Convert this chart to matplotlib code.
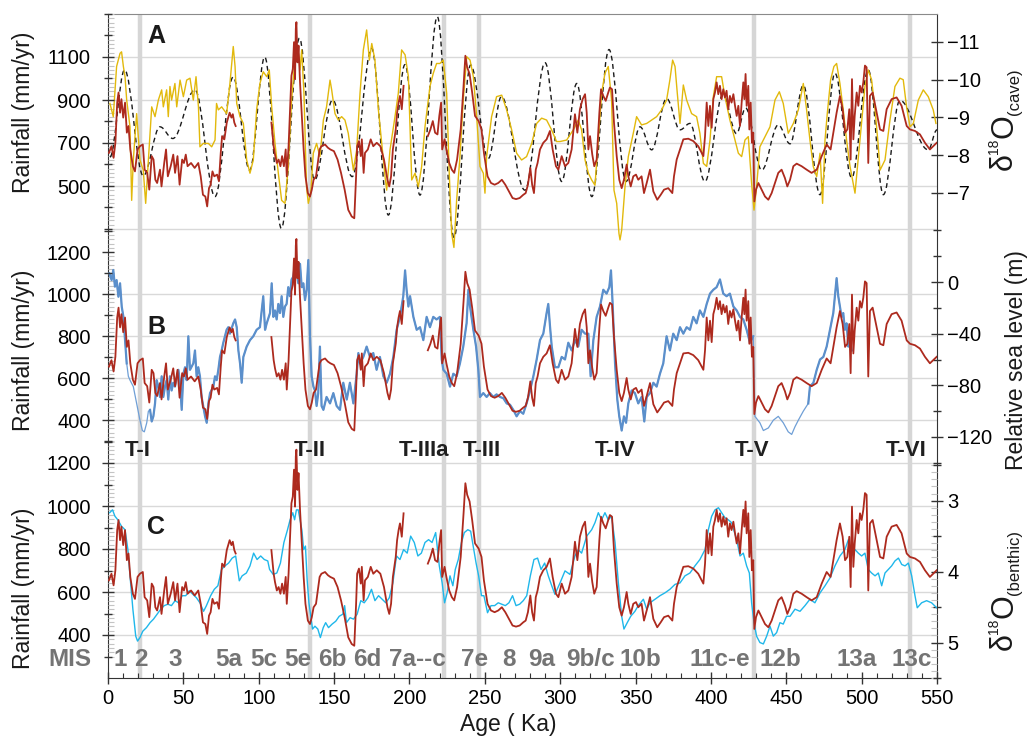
import numpy as np
import matplotlib.pyplot as plt
from matplotlib.path import Path
from matplotlib.patches import PathPatch
from matplotlib.transforms import blended_transform_factory as btf

plt.rcParams['font.family'] = ['Liberation Sans', 'DejaVu Sans']

# ---------------- data (age in ka) ----------------
# rainfall reconstruction (mm/yr), shown in all three panels
rain_age = [0.6, 2.3, 3.7, 4.9, 6.1, 7, 8, 8.9, 10.1, 11.3,
            12.5, 13.6, 14.8, 16.5, 17.9, 19.6, 21.2, 23.1, 24.3, 26,
            27.4, 29, 30.2, 31.4, 32.6, 34.5, 35.5, 37.3, 38.5, 39.7,
            41.6, 43.3, 44.5, 46.1, 47.5, 49.2, 50.4, 51.6, 52.8, 55.1,
            57.5, 59.9, 61.5, 63, 64.6, 65.8, 67, 68.1, 69.3, 70.5,
            72.4, 73.6, 74.8, 75.7, 77.2, 78.8, 80.7, 81.9, 82.8, 83.8,
            84.7, 96, 108.4, 109.9, 110.8, 112, 113.2, 114.4, 115.5, 116.7,
            117.9, 118.6, 119.8, 120.8, 121.7, 122.6, 123.4, 124.1, 124.6, 125,
            125.7, 126.4, 127.4, 128.6, 129.8, 131, 132.6, 134, 135.2, 136.4,
            138, 139.2, 140.4, 141.6, 144, 145.9, 147.5, 149.9, 152.3, 154.6,
            157, 159.4, 161.7, 163.4, 164.6, 165.3, 166.5, 167.7, 168.4, 169.6,
            170.5, 172.4, 174.3, 176, 178.3, 180.7, 183.1, 185.4, 186.6, 187.8,
            189, 190.9, 191.8, 192.8, 193.7, 194.9, 196.1, 204, 212.2, 213.9,
            215.5, 217, 218.6, 219.8, 221, 221.7, 223.3, 224.5, 226.4, 228.1,
            229.7, 231.6, 234, 235.9, 237.1, 238.3, 239.9, 241.6, 243.5, 245.9,
            247.8, 249.4, 251.8, 254.1, 256.5, 258.9, 261.3, 263.6, 266, 268.4,
            270.7, 273.1, 275.5, 277.1, 278.6, 280.2, 281.4, 282.6, 283.8, 285,
            286.6, 288.8, 291, 293.2, 295, 297.2, 298.8, 301, 303.2, 305.4,
            307.6, 309.8, 311.4, 313.1, 314.9, 316.5, 317.6, 318.7, 319.8, 321.3,
            322.6, 324.2, 326, 327.1, 328.6, 330.2, 331.9, 333, 334.4, 335.7,
            337.5, 339.2, 340.8, 342.3, 344.1, 345.2, 346.8, 348.5, 350.3, 351.8,
            354, 355.6, 357.4, 359.6, 361.8, 364.4, 366.7, 368.9, 371.7, 374.4,
            375.5, 377.3, 379.5, 381.7, 385, 388.3, 391.6, 395, 396.1, 397.2,
            398.3, 399.4, 400.5, 401.6, 402.7, 403.8, 404.9, 406, 407.1, 408.2,
            409.3, 410.4, 411.5, 412.6, 413.7, 414.9, 416, 417.1, 418.2, 419.3,
            420.4, 421.5, 422.2, 423, 423.7, 424.8, 425.5, 426.4, 427.2, 428.1,
            428.8, 429.9, 431.5, 433.7, 435.9, 438.1, 440.3, 442.5, 444.7, 446.9,
            449.1, 450.7, 452.5, 454.7, 456.9, 460.2, 463.5, 466.8, 470.2, 473.5,
            476.8, 479.4, 481.2, 483.4, 485.6, 487.4, 489, 490.5, 491.8, 492.7,
            493.6, 494.5, 495.4, 496.7, 497.8, 498.9, 500, 501.1, 502.2, 503.3,
            504.4, 505.5, 507.3, 510, 512.2, 514.4, 516.6, 519.9, 523.2, 526.5,
            529.9, 532.1, 535.4, 538.7, 542, 545.3, 547.5, 549.8]
rain_mm = [654, 685, 631, 701, 888, 935, 841, 904, 818, 888,
           748, 779, 670, 592, 568, 670, 685, 693, 576, 561,
           483, 639, 623, 529, 514, 576, 498, 607, 670, 545,
           592, 646, 561, 639, 506, 623, 607, 646, 592, 607,
           584, 607, 545, 459, 451, 405, 490, 506, 568, 545,
           553, 522, 654, 732, 717, 795, 841, 818, 834, 795,
           779, np.nan, 795, 685, 646, 607, 623, 592, 639, 592,
           670, 545, 685, 857, 1013, 1044, 1169, 997, 1231, 1262,
           1075, 1153, 982, 826, 670, 545, 467, 451, 483, 529,
           545, 607, 670, 685, 693, 678, 670, 662, 623, 561,
           483, 389, 358, 350, 545, 685, 709, 639, 717, 561,
           654, 670, 717, 685, 701, 685, 623, 529, 498, 545,
           670, 763, 841, 888, 919, 857, 966, np.nan, 732, 763,
           802, 748, 740, 826, 888, 670, 717, 670, 607, 576,
           561, 623, 763, 966, 1106, 1052, 1021, 935, 826, 802,
           763, 654, 545, 514, 506, 514, 529, 506, 475, 444,
           439, 444, 459, 467, 506, 584, 506, 467, 576, 607,
           670, 701, 717, 756, 670, 592, 576, 639, 592, 607,
           670, 834, 748, 857, 904, 927, 841, 670, 732, 646,
           592, 623, 841, 950, 919, 896, 935, 958, 950, 795,
           639, 529, 490, 529, 600, 545, 498, 545, 553, 529,
           545, 467, 514, 576, 475, 436, 459, 483, 490, 467,
           545, 623, 670, 717, 720, 709, 685, 639, 732, 888,
           779, 873, 771, 904, 935, 982, 927, 966, 904, 950,
           912, 943, 857, 919, 888, 927, 873, 826, 873, 779,
           888, 982, 904, 1021, 873, 966, 763, 888, 701, 748,
           428, 483, 514, 483, 451, 436, 467, 514, 561, 576,
           537, 498, 529, 592, 604, 592, 576, 561, 576, 639,
           693, 670, 748, 841, 919, 857, 748, 763, 857, 623,
           997, 717, 826, 935, 873, 966, 935, 982, 1060, 1052,
           607, 919, 935, 841, 763, 756, 857, 904, 912, 873,
           779, 763, 756, 740, 701, 670, 685, 701]

# cave d18O (permil)
cave_age = [1.3, 3.5, 5.7, 8, 9, 10.2, 11.3, 12.4, 14.6, 15.7,
            16.8, 19, 21.2, 23.4, 25, 26.8, 27.9, 29, 31.2, 33.4,
            35.6, 36.7, 38.9, 40, 41.1, 42.2, 44.4, 45.6, 47.8, 50,
            52.2, 54.4, 56.6, 58.4, 60, 61, 63.2, 66.6, 68.8, 71,
            72, 73.2, 75.4, 78.7, 80.9, 83.1, 84.3, 85.4, 87.6, 89.8,
            92, 94.2, 96.4, 98.6, 100.8, 103, 105.3, 107, 108.6, 110.8,
            113, 115.2, 117.4, 119.6, 121.8, 124, 126.3, 127.4, 128.5, 130,
            131.7, 132.9, 134.5, 136.2, 138.4, 140.6, 142.9, 145, 147.3, 148.4,
            150.6, 152.8, 155, 157.2, 159.4, 162.8, 165, 167.2, 169.4, 171.6,
            173.4, 175, 177.1, 179.4, 181.6, 183.8, 184.9, 187.1, 190.4, 192.6,
            194.8, 197.1, 199.3, 201.5, 203.7, 205.9, 208.1, 210.3, 213.6, 215.8,
            218, 220.2, 222.4, 224.7, 226.4, 228, 229.5, 231.3, 233.5, 235.7,
            238, 240.2, 242.4, 244.6, 246.8, 249, 250.1, 251.2, 254.5, 257.8,
            261.2, 264.5, 267.8, 271.1, 274.4, 277.7, 281.1, 284.4, 287.7, 291,
            294.3, 297.6,
            299.9, 304.3, 308.7, 312, 314.2, 316.5, 318.7, 320.9, 323.1, 325.3,
            327.5, 329.7, 331.9, 334.1, 335.7, 337.5, 339, 339.7, 340.8, 343,
            345.2, 348.5, 350.7, 354, 357.4, 360.7, 364, 367.3, 370.6, 372.8,
            374.6, 376.2, 377.7, 379.5, 381.7, 383.9, 387.2, 390.5, 392.7, 395,
            397.2, 399.4, 401.6, 403.8, 407.1, 409.3, 412.6, 416, 418.2, 420.4,
            422.6, 424.8, 427, 428.6, 430.3, 432.5, 435.9, 439.2, 442.5, 445.4,
            448, 451.3, 454.7, 458, 461.3, 463.5, 465.7, 467.9, 470.2, 472.4,
            474.1, 475.7, 477.2, 479.4, 481.6, 483.4, 485.6, 487.8, 490, 492.3,
            495.6, 498.9, 502.2, 504.4, 506.6, 508.9, 511.1, 512.2, 515.5, 518.8,
            522.1, 525.4, 527.6, 529.8, 532.1, 534.3, 537.6, 540.9, 544.2, 547.5,
            549.3]
cave_d18o = [-9.37, -9.02, -10.35, -10.7, -10.74, -10.35, -10.08, -9.46, -8.75, -6.8,
             -7.87, -9.1, -7.87, -7.6, -6.72, -7.87, -8.58, -9.28, -9.02, -9.46,
             -9.73, -9.28, -9.73, -9.02, -9.82, -9.46, -9.9, -9.28, -9.99, -9.55,
             -9.99, -10.04, -9.46, -10.08, -9.28, -8.22, -8.31, -8.31, -8.22, -8.4,
             -9.37, -9.2, -9.28, -9.1, -9.9, -10.88, -10.35, -9.37, -9.02, -8.84,
             -7.87, -7.52, -7.87, -9.2, -9.9, -10.21, -10.08, -10.26, -9.28, -8.31,
             -7.52, -6.8, -6.72, -7.7, -9.46, -10.52, -10.7, -10.26, -10.79, -9.64,
             -7.16, -6.72, -6.99, -8.05, -8.31, -7.96, -8.93, -9.28, -9.99, -9.73,
             -9.1, -8.93, -9.02, -8.93, -8.58, -7.6, -8.14, -9.64, -10.79, -11.32,
             -10.52, -10.96, -10.52, -9.2, -8.31, -7.43, -7.07, -8.14, -9.02, -9.64,
             -10.79, -10.66, -10.08, -7.34, -7.52, -7.16, -7.7, -8.75, -9.82, -10.17,
             -10.43, -10.43, -10.52, -9.64, -7.52, -5.92, -5.55, -6.8, -7.96, -9.46,
             -10.61, -10.52, -10.08, -9.02, -7.7, -7.52, -6.99, -7.96, -9.02, -9.55,
             -9.59, -9.2, -8.67, -8.05, -7.87, -7.96, -8.31, -8.84, -8.98, -8.93,
             -8.67, -8.36,
             -8.36, -8.4, -8.67, -8.93, -8.67, -7.87, -7.52, -7.34, -7.2, -8.4,
             -9.64, -10.17, -10.35, -9.46, -7.07, -6.72, -5.92, -5.75, -6.01, -7.16,
             -7.96, -8.58, -9.02, -8.8, -8.84, -8.93, -9.02, -9.2, -9.46, -10,
             -10.52, -10.35, -9.64, -8.84, -9.86, -9.46, -9.1, -9.02, -8.58, -7.78,
             -7.7, -8.4, -9.55, -10.08, -10.08, -9.55, -8.93, -8.4, -8.05, -7.96,
             -8.4, -8.49, -7.25, -6.54, -7.16, -8.22, -8.49, -8.75, -9.46, -9.68,
             -9.37, -8.58, -8.84, -9.2, -9.9, -9.2, -8.4, -7.7, -7.43, -8.05,
             -6.72, -8.4, -9.1, -9.99, -10.35, -10.43, -9.9, -9.2, -8.4, -7.7,
             -6.99, -8.4, -9.82, -10.26, -10, -9.2, -8.22, -7.6, -7.87, -8.93,
             -9.82, -10.04, -10, -9.28, -8.75, -8.84, -9.46, -9.73, -9.55, -9.2,
             -8.84]

# dashed reference curve, turning points (permil, cave scale)
ref_age = [1.3, 11, 23.4, 34.5, 43, 57.7, 71, 83, 94, 104,
           115, 127, 137, 149, 162, 175, 186, 197, 207, 218.5,
           229.5, 240.6, 252.3, 261, 276.6, 290, 301, 311, 321, 332.4,
           343.7, 353, 360.7, 370.6, 379.5, 386.1, 396, 408, 417, 423,
           433.7, 444.7, 452.5, 461.3, 472.4, 482.3, 493.4, 504.4, 514.4, 525.4,
           544.2, 550]
ref_d18o = [-7.95, -10.26, -7.45, -8.75, -8.44, -9.73, -6.9, -10.07, -7.6, -10.6,
            -6.06, -11.1, -7.34, -9.46, -7.43, -10.83, -6.41, -10.4, -6.94, -11.67,
            -5.82, -10.39, -7.91, -9.55, -7.07, -10.45, -7.3, -9.9, -6.9, -10.8,
            -7.3, -8.75, -8.14, -9.5, -8.67, -8.84, -7.3, -9.6, -8.57, -9.25,
            -7.6, -8.8, -8.3, -9.85, -6.95, -10.17, -7.4, -10.26, -6.95, -9.45,
            -8.14, -8.67]

# relative sea level (m)
sea_age = [0.9, 2.4, 3.5, 4.6, 5.7, 6.9, 8, 9.1, 10.2, 11.3,
           12.4, 13.5, 14.6, 16.8, 19, 21.2, 22.8, 24.1, 25.7, 26.8,
           27.9, 29, 30.1, 31.2, 32.3, 33.4, 34.5, 35.6, 36.7, 37.8,
           38.9, 40, 41.1, 42.2, 43.3, 44.4, 46.7, 47.8, 48.9, 50,
           51.1, 52.2, 53.3, 54.4, 56.6, 57.7, 58.8, 59.9, 61, 62.1,
           63.2, 64.4, 65.5, 66.6, 67.7, 69.9, 71, 72.1, 73.2, 74.3,
           75.4, 76.5, 78.7, 79.8, 80.9, 83.1, 84.3, 85.4, 86.5, 87.6,
           88.7, 89.8, 92, 94.2, 96.4, 98.6, 100.8, 103, 104.2, 105.3,
           107.5, 108.6, 109.7, 110.8, 111.9, 113, 114.1, 115.2, 116.3, 117.4,
           118.5, 119.6, 120.7, 121.8, 122.9, 124.1, 125.2, 126.3, 127.4, 128.5,
           129.6, 130.7, 131.8, 132.9, 134, 135.1, 136.3, 137.3, 138.4, 139.5,
           140.6, 141.7, 142.9, 145, 147.3, 149.5, 151.7, 153.9, 156.1, 158.4,
           160.5, 162.8, 165, 166.1, 167.2, 169.4, 171.6, 173.8, 176, 178.2,
           180.4, 182.7, 184.9, 187.1, 189.3, 191.5, 193.7, 195.9, 197.1, 198.1,
           199.3, 200.4, 202.6, 204.8, 207, 209.2, 211.4, 213.6, 215.8, 218,
           220.2, 221.4, 222.5, 224.7, 226.9, 229.1, 231.3, 233.5, 235.7, 237.9,
           239.1, 240.2, 242.4, 244.2, 245.7, 246.8, 249, 251.2, 253.4, 255.6,
           257.8, 260.1, 262.3, 264.5, 266.7, 268.9, 271.1, 273.3, 275.5, 277.7,
           280, 282.2, 284.4, 286.6, 288.8, 291, 292.1, 293.3, 294.4, 296.5,
           298.8, 301, 303.2, 305.4, 307.6, 309.8, 312, 314.2, 316.5, 318.7,
           320.2, 322, 324.2, 326.4, 328.6, 330.8, 332.6, 333.7, 334.8, 336.4,
           337.9, 339.2, 340.8, 342.3, 343.7, 345.2, 347.4, 349.6, 351.8, 354,
           355.8, 357.4, 359.6, 361.8, 364, 366.2, 368.4, 370.6, 372.8, 375,
           377.3, 379.5, 381.7, 383.9, 386.1, 388.3, 390.5, 392.7, 395, 397.2,
           399.4, 401.6, 403.8, 406, 408.2, 410.4, 412.6, 414.9, 417.1, 419.3,
           421.5, 423.7, 425.9, 428.1, 429.2, 432.5, 434.8, 438.1, 441.4, 444.7,
           448, 451.3, 453.6, 455.8, 458, 461.3, 463.5, 464.6, 465.7, 468,
           470.2, 472.4, 474.6, 476.8, 479, 481.2, 482.7, 483.4, 484.5, 485.6,
           486.7, 487.8, 488.9, 490, 491.2, 492.3, 493.4]
sea_level = [6.7, 1.5, 9.3, -3.6, 1.5, -11.4, -1, -19, -26.8, -45,
             -63, -73, -76, -81, -94, -107, -115, -116, -109, -100,
             -99, -108, -104, -94, -76, -81, -89, -73, -89, -81,
             -76, -91, -73, -84, -78, -81, -68, -78, -99, -71,
             -66, -76, -42, -68, -63, -53, -73, -66, -73, -89,
             -96, -104, -109, -94, -86, -81, -73, -76, -68, -58,
             -53, -47, -37, -35, -40, -32, -29, -35, -53, -63,
             -78, -58, -50, -45, -42, -37, -35, -11, -37, -32,
             -24, -1, -27, -22, -29, -17, -24, -11, -27, -19,
             -17, -4, -11, 2, 4, 14, 7, -1, 14, -4,
             -1, -14, -6, 17, -42, -73, -81, -84, -96, -86,
             -50, -96, -99, -89, -94, -86, -96, -99, -78, -91,
             -78, -94, -71, -55, -63, -58, -50, -58, -55, -68,
             -58, -73, -78, -71, -58, -37, -27, -11, 9, -6,
             -19, -11, -27, -37, -35, -45, -27, -35, -27, -29,
             -27, -60, -68, -71, -81, -71, -73, -63, -50, -32,
             -6, -19, -37, -50, -68, -89, -86, -89, -86, -89,
             -87, -89, -90, -94, -95, -99, -104, -100, -102, -94,
             -84, -73, -60, -45, -40, -24, -17, -35, -50, -66,
             -66, -58, -60, -47, -53, -45, -50, -37, -40, -40,
             -73, -45, -27, -19, -6, -9, -4, 9, -17, -63,
             -91, -104, -115, -104, -109, -94, -84, -86, -94, -89,
             -108, -89, -86, -78, -81, -71, -63, -42, -53, -40,
             -45, -35, -40, -35, -37, -27, -32, -22, -27, -17,
             -9, -6, -4, 2, -9, -11, -9, -19, -22, -27,
             -29, -37, -47, -42, -104, -109, -115, -113, -107, -104,
             -109, -116, -118, -112, -107, -100, -96, -94, -81, -78,
             -68, -60, -58, -50, -37, -24, -6, 3, -11, -19,
             -27, -24, -37, -32, -50, -45, -53]
sea_sparse = [(12.4, 27.9), (428.1, 464.6)]   # intervals drawn as thin line

# benthic d18O stack (permil)
benth_age = [1.1, 3, 4.6, 6.5, 8.9, 11.3, 13.2, 14.8, 16.5, 18.4,
             19.6, 21.2, 23.1, 25.5, 27.9, 30.2, 32.6, 35, 37.3, 39.7,
             42.1, 44.5, 46.8, 49.2, 51.6, 53.9, 56.3, 58.7, 61, 63.4,
             65.3, 68.1, 70.5, 72.9, 75.3, 77.6, 80, 82.4, 84.7, 87.1,
             89, 91.8, 94.2, 96.6, 98.9, 101.3, 103.7, 106, 107.2, 109.6,
             112, 114.4, 116.7, 119.1, 120.8, 122.6, 123.8, 125, 126.2, 127.4,
             128.6, 129.8, 131, 132.1, 133.3, 134.5, 135.7, 137.3, 139.2, 140.9,
             142.8, 144.4, 146.3, 148.7, 151.1, 153.4, 155.8, 157, 158.2, 160.6,
             162.9, 165.3, 167.7, 170, 172.4, 174.8, 177.1, 179.5, 181.9, 184.3,
             186.6, 189, 191.4, 193.7, 196.1, 198.5, 200.8, 203.2, 205.6, 207.9,
             210.3, 212.7, 215, 217.4, 219.8, 221.7, 223.3, 225, 226.9, 228.8,
             230.4, 232.4, 234.5, 236.4, 238.7, 240.6, 242.3, 244.2, 245.9, 247.8,
             249.4, 251.8, 254.1, 256.5, 258.9, 261.3, 263.6, 266, 268.4, 270.7,
             273.1, 275.5, 277.8, 280.2, 282.6, 285, 287.3, 289.7, 292.1, 294.4,
             296.5, 299.9, 303.2, 306.5, 309.8, 312, 314.2, 317.6, 320.9, 323.1,
             325.3, 327.5, 329.7, 331.9, 334.1, 336.4, 338.6, 340.8, 342.3, 344.5,
             346.8, 349.6, 351.8, 355.2, 357.4, 359.6, 362.9, 366.2, 369.5, 372.8,
             376.2, 379.5, 382.8, 386.1, 389.4, 392.7, 396.1, 398.3, 400.5, 402.7,
             405, 407.1, 409.3, 411.5, 413.7, 417.1, 419.3, 421.5, 423.7, 425.5,
             427, 428.6, 430.3, 432.5, 434.8, 437, 439.2, 441.4, 443.6, 445.8,
             448, 450.2, 452.5, 455.8, 459.1, 462.4, 465.7, 469, 472.4, 475.7,
             479, 482.3, 485.6, 488.9, 491.2, 493.4, 495.6, 497.8, 500, 502.2,
             504.4, 506.6, 508.9, 511.1, 513.3, 515.5, 517.7, 519.9, 522.1, 524.4,
             526.6, 528.8, 531, 533.2, 535.4, 536.9, 539.8, 543.1, 546.4, 549.8]
benth_d18o = [3.17, 3.13, 3.22, 3.27, 3.36, 3.41, 3.69, 4.11, 4.53, 4.91,
              4.98, 4.93, 4.84, 4.79, 4.72, 4.67, 4.6, 4.53, 4.48, 4.46,
              4.48, 4.41, 4.44, 4.34, 4.34, 4.27, 4.32, 4.37, 4.44, 4.56,
              4.48, 4.34, 4.25, 4.2, 3.97, 3.92, 3.88, 3.81, 3.78, 4.13,
              4.06, 4.02, 3.92, 3.74, 3.83, 3.78, 3.83, 3.85, 3.97, 4.04,
              4.02, 3.88, 3.59, 3.41, 3.27, 3.17, 3.27, 3.13, 3.13, 3.27,
              3.41, 3.69, 3.64, 4.11, 4.44, 4.63, 4.81, 4.77, 4.81, 4.93,
              4.79, 4.72, 4.79, 4.74, 4.7, 4.63, 4.6, 4.48, 4.72, 4.65,
              4.67, 4.6, 4.41, 4.44, 4.37, 4.25, 4.41, 4.34, 4.39, 4.44,
              4.37, 4.16, 3.78, 3.83, 3.69, 3.74, 3.5, 3.59, 3.78, 3.74,
              3.59, 3.55, 3.59, 3.45, 3.92, 4.16, 4.44, 4.3, 4.06, 4.2,
              3.97, 3.83, 3.59, 3.45, 3.41, 3.43, 3.64, 3.88, 4.06, 4.34,
              4.34, 4.58, 4.48, 4.48, 4.44, 4.46, 4.48, 4.44, 4.34, 4.48,
              4.46, 4.41, 4.34, 4.06, 3.83, 3.81, 3.97, 3.88, 4.06, 4.2,
              4.32, 4.16, 3.99, 4.04, 3.78, 3.69, 3.74, 3.5, 3.41, 3.31,
              3.17, 3.27, 3.17, 3.27, 3.22, 3.59, 4.16, 4.63, 4.81, 4.72,
              4.63, 4.56, 4.48, 4.39, 4.53, 4.44, 4.39, 4.34, 4.3, 4.25,
              4.18, 4.16, 4.06, 4.02, 3.92, 3.83, 3.69, 3.41, 3.22, 3.13,
              3.1, 3.17, 3.24, 3.27, 3.31, 3.55, 3.78, 3.74, 3.92, 4.02,
              4.44, 4.72, 4.91, 5, 5.02, 4.91, 4.77, 4.91, 4.86, 4.72,
              4.74, 4.63, 4.63, 4.53, 4.56, 4.48, 4.39, 4.44, 4.3, 4.2,
              4.09, 3.92, 3.78, 3.69, 3.55, 3.78, 3.69, 3.74, 3.78, 3.74,
              3.97, 4.02, 4.06, 4.02, 4.2, 4.02, 3.97, 3.92, 3.85, 3.81,
              3.9, 3.92, 3.88, 4.06, 4.34, 4.51, 4.44, 4.41, 4.44, 4.51]

terminations = [21.2, 134, 223, 246, 428.6, 532]
term_names = ['T-I', 'T-II', 'T-IIIa', 'T-III', 'T-IV', 'T-V', 'T-VI']
term_label_age = [19.9, 134, 209.6, 248.1, 336.4, 427.4, 529.4]
mis_names = ['1', '2', '3', '5a', '5c', '5e', '6b', '6d', '7a--c', '7e', '8', '9a',
             '9b/c', '10b', '11c-e', '12b', '13a', '13c']
mis_age = [8, 22, 44.6, 80.4, 103.6, 126, 149, 172, 205.5, 243.5, 266, 288,
           320, 353, 406, 446, 497, 533]

# ---------------- layout ----------------
W, H = 1029, 738
X0, X1, Y0, Y1 = 108, 937, 14, 678
RECT = [X0 / W, 1 - Y1 / H, (X1 - X0) / W, (Y1 - Y0) / H]

RED = '#ad2a1e'
GOLD = '#e2b90c'
BLUE = '#5b8fcb'
CYAN = '#1fb7ea'
GRID = '#d9d9d9'
DARK = '#333333'
TICKFS = 14.5

fig = plt.figure(figsize=(W / 100, H / 100), dpi=100)

fa = fig.add_axes(RECT, zorder=0)
fa.set_xlim(0, 550)
fa.set_ylim(Y1, Y0)      # y in pixel rows, used only for placing labels
fa.set_yticks([])
fa.set_xticks(np.arange(0, 551, 50))
fa.set_xticks(np.arange(0, 551, 10), minor=True)
fa.tick_params(axis='x', which='major', direction='inout', length=8, width=1,
               labelsize=TICKFS, pad=4, color=DARK)
fa.tick_params(axis='x', which='minor', direction='in', length=3.5, width=0.8, color=DARK)
for side in ['left', 'right', 'bottom']:
    fa.spines[side].set_color(DARK)
fa.spines['top'].set_color('#8a8a8a')
for a in terminations:
    fa.axvline(a, color='#d6d6d6', lw=3.2, zorder=1)


def overlay(p_ref, v_ref, per_px, z, right=False, fine=None):
    ax = fig.add_axes(RECT, zorder=z)
    ax.patch.set_visible(False)
    for s in ax.spines.values():
        s.set_visible(False)
    ax.set_xlim(0, 550)
    ylim = (v_ref + (Y1 - p_ref) * per_px, v_ref + (Y0 - p_ref) * per_px)
    ax.set_ylim(*ylim)
    ax.tick_params(axis='x', which='both', bottom=False, labelbottom=False)
    if right:
        ax.yaxis.tick_right()
        ax.tick_params(axis='y', which='major', direction='inout', length=9, width=1,
                       labelsize=TICKFS, pad=3, color=DARK)
    else:
        ax.tick_params(axis='y', which='major', direction='inout', length=9, width=1,
                       labelsize=TICKFS, pad=8, color=DARK)
    ax.tick_params(axis='y', which='minor', direction='inout', length=6, width=1, color=DARK)
    if fine is not None:
        # faint small ticks on the inside of the axis
        fx = fig.add_axes(RECT, zorder=0.2)
        fx.patch.set_visible(False)
        for s in fx.spines.values():
            s.set_visible(False)
        fx.set_xticks([])
        fx.set_ylim(*ylim)
        if right:
            fx.yaxis.tick_right()
        fx.set_yticks(fine)
        fx.tick_params(axis='y', direction='in', length=4, width=0.8,
                       color='#c4c4c4', labelleft=False, labelright=False)
    return ax


# panel A
axA_r = overlay(42, -11, 1 / 37.7, 1, right=True)
axA = overlay(57, 1100, -200 / 43, 2, fine=np.arange(300, 1301, 20))
# panel B
axB_r = overlay(282, 0, -120 / 155, 3, right=True)
axB = overlay(252, 1200, -800 / 168, 4, fine=np.arange(300, 1301, 20))
# panel C
axC_r = overlay(501, 3, 2 / 142, 5, right=True, fine=np.arange(2.5, 5.51, 0.1))
axC = overlay(463, 1200, -800 / 172, 6, fine=np.arange(300, 1301, 20))

axA.set_yticks([500, 700, 900, 1100])
axA.set_yticks(np.arange(300, 1301, 100), minor=True)
axB.set_yticks([400, 600, 800, 1000, 1200])
axB.set_yticks(np.arange(300, 1301, 100), minor=True)
axC.set_yticks([400, 600, 800, 1000, 1200])
axC.set_yticks(np.arange(300, 1301, 100), minor=True)
axA_r.set_yticks([-11, -10, -9, -8, -7])
axA_r.set_yticks([-6], minor=True)
axB_r.set_yticks([0, -40, -80, -120])
axB_r.set_yticks([20, -20, -60, -100, -140], minor=True)
axC_r.set_yticks([3, 4, 5])
axC_r.set_yticks([2.5, 3.5, 4.5, 5.5], minor=True)

# horizontal grid lines, drawn in the frame axes using each panel's scale
for ax, vals in [(axA, [300, 500, 700, 900, 1100]),
                 (axB, [400, 600, 800, 1000]),
                 (axC, [400, 600, 800, 1000, 1200])]:
    tr = btf(fa.transAxes, ax.transData)
    for v in vals:
        fa.plot([0, 1], [v, v], transform=tr, color=GRID, lw=1, zorder=0.5)

# ---- panel A
axA_r.plot(cave_age, cave_d18o, color=GOLD, lw=1.0)
verts = [(ref_age[0], ref_d18o[0])]
codes = [Path.MOVETO]
for i in range(1, len(ref_age)):
    a0, v0 = ref_age[i - 1], ref_d18o[i - 1]
    a1, v1 = ref_age[i], ref_d18o[i]
    d = (a1 - a0) * 0.364
    verts += [(a0 + d, v0), (a1 - d, v1), (a1, v1)]
    codes += [Path.CURVE4] * 3
axA_r.add_patch(PathPatch(Path(verts, codes), fill=False, ec='#1a1a1a', lw=1.0,
                          ls=(0, (3.5, 2.5))))
axA.plot(rain_age, rain_mm, color=RED, lw=1.3)

# ---- panel B
sa = np.array(sea_age)
sl = np.array(sea_level)
inside = np.zeros(len(sa), dtype=bool)
for lo, hi in sea_sparse:
    inside |= (sa > lo) & (sa < hi)
axB_r.plot(sa, sl, color='#6f9fd6', lw=0.9)
axB_r.plot(sa, np.where(inside, np.nan, sl), color=BLUE, lw=1.6)
axB.plot(rain_age, rain_mm, color=RED, lw=1.3)

# ---- panel C
axC_r.plot(benth_age, benth_d18o, color=CYAN, lw=1.0)
axC.plot(rain_age, rain_mm, color=RED, lw=1.3)

# ---------------- text ----------------
def px(x, y):
    return x / W, 1 - y / H

for letter, y in [('A', 36), ('B', 327), ('C', 527)]:
    fa.text(32, y, letter, fontsize=18, fontweight='bold', color='#1a1a1a',
            ha='center', va='center', zorder=10)
for name, a in zip(term_names, term_label_age):
    fa.text(a, 450, name, fontsize=16, fontweight='bold', color='#1f1f1f',
            ha='center', va='center', zorder=10)
for name, a in zip(mis_names, mis_age):
    fa.text(a, 660, name, fontsize=17.5, fontweight='bold', color='#747474',
            ha='center', va='center', zorder=10)
fig.text(*px(70, 660), 'MIS', fontsize=17.5, fontweight='bold', color='#747474',
         ha='center', va='center')

for y in [112, 350, 588]:
    fig.text(*px(24, y), 'Rainfall (mm/yr)', fontsize=16.5, rotation=90,
             ha='center', va='center', color='#1a1a1a')
fig.text(*px(1016, 360), 'Relative sea level (m)', fontsize=16.5, rotation=90,
         ha='center', va='center', color='#1a1a1a')
fig.text(*px(508, 725), 'Age ( Ka)', fontsize=16.5, ha='center', va='center',
         color='#1a1a1a')


def delta_label(y_start, sub):
    kw = dict(rotation=90, rotation_mode='anchor', ha='left', va='baseline',
              color='#1a1a1a')
    fig.text(*px(1012, y_start), 'δ', fontsize=22, **kw)
    fig.text(*px(998, y_start - 16), '18', fontsize=10, **kw)
    fig.text(*px(1012, y_start - 32), 'O', fontsize=22, **kw)
    fig.text(*px(1019, y_start - 55), sub, fontsize=12, **kw)


delta_label(170, '(cave)')
delta_label(650, '(benthic)')

fig.savefig('out.png', dpi=100)
